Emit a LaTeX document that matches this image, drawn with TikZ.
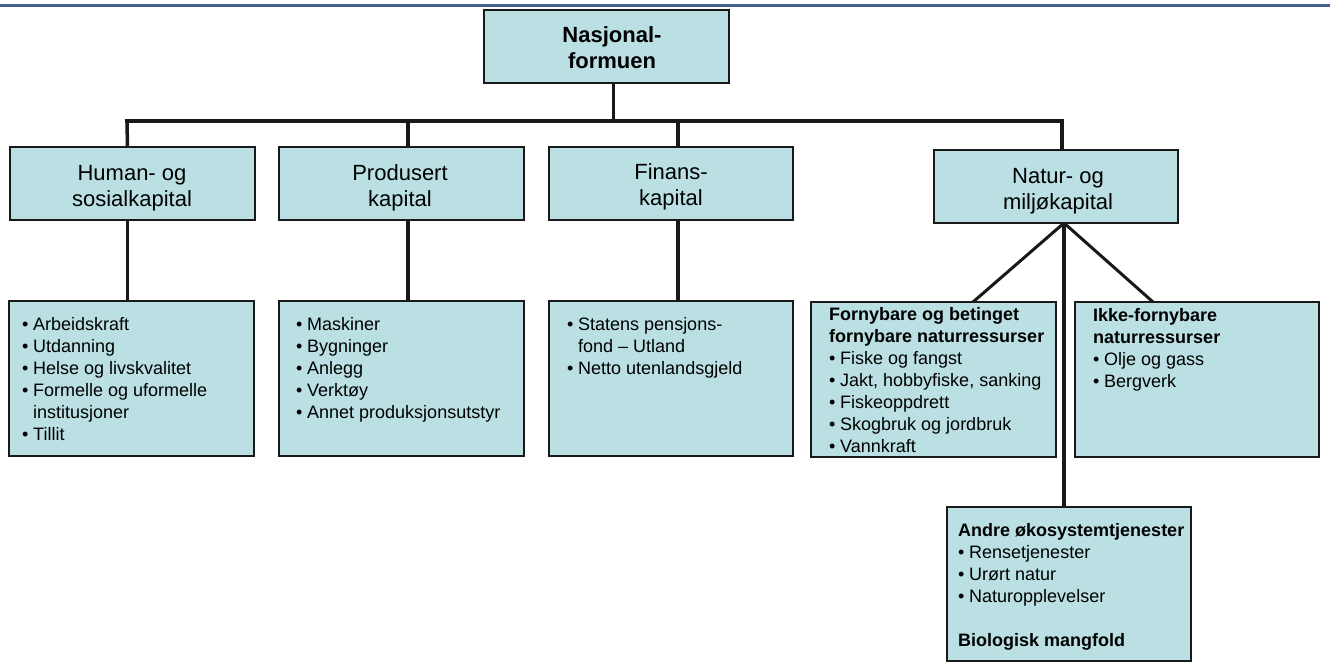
\documentclass[tikz,border=0pt]{standalone}
\usepackage{fontspec}
\setmainfont{Liberation Sans}
\definecolor{boxfill}{RGB}{186,224,227}
\definecolor{topblue}{RGB}{72,94,145}
\definecolor{edge}{RGB}{25,25,25}
\newcommand{\itm}[1]{\makebox[11pt][l]{•}#1}
\newcommand{\cnt}{\hspace*{11pt}}
\begin{document}
\begin{tikzpicture}[x=1pt,y=-1pt,
  box/.style={draw=edge,line width=1.6pt,fill=boxfill,inner sep=0pt,outer sep=0pt,anchor=north west},
  conn/.style={line width=3.5pt,draw=edge},
  hdr/.style={inner sep=0pt,anchor=base,font=\fontsize{22}{26}\selectfont},
  lst/.style={inner sep=0pt,anchor=base west,font=\fontsize{18}{22}\selectfont}]
\useasboundingbox (0,0) rectangle (1330,662);
\fill[white] (0,0) rectangle (1330,662);
% top rule
\coordinate (tl) at (0,5.5);
\coordinate (tr) at (1330,5.5);
\draw[topblue,line width=3pt] (tl) -- (tr);

% boxes
\node[box,minimum width=245pt,minimum height=73pt] (nat) at (484,10) {};
\node[box,minimum width=245pt,minimum height=73pt] (hh) at (10,147) {};
\node[box,minimum width=245pt,minimum height=73pt] (ph) at (279,147) {};
\node[box,minimum width=244pt,minimum height=73pt] (fh) at (549,147) {};
\node[box,minimum width=244pt,minimum height=73pt] (nh) at (934,150) {};
\node[box,minimum width=245pt,minimum height=155pt] (hl) at (9,301) {};
\node[box,minimum width=245pt,minimum height=155pt] (pl) at (279,301) {};
\node[box,minimum width=244pt,minimum height=155pt] (fl) at (549,301) {};
\node[box,minimum width=245pt,minimum height=155pt] (fb) at (811,302) {};
\node[box,minimum width=244pt,minimum height=155pt] (ik) at (1075,302) {};
\node[box,minimum width=244pt,minimum height=154pt] (an) at (947,507) {};

% header texts
\node[hdr,font=\fontsize{22}{26}\selectfont\bfseries] (natt) at (612,42) {\parbox[t]{230pt}{\centering Nasjonal-\\formuen}};
\node[hdr] (hht) at (132,180) {\parbox[t]{230pt}{\centering Human- og\\sosialkapital}};
\node[hdr] (pht) at (400,180) {\parbox[t]{230pt}{\centering Produsert\\kapital}};
\node[hdr] (fht) at (671,179) {\parbox[t]{230pt}{\centering Finans-\\kapital}};
\node[hdr] (nht) at (1058,183) {\parbox[t]{230pt}{\centering Natur- og\\miljøkapital}};

% list texts
\node[lst] (hlt) at (22,330) {\parbox[t]{230pt}{\itm{Arbeidskraft}\\\itm{Utdanning}\\\itm{Helse og livskvalitet}\\\itm{Formelle og uformelle}\\\cnt institusjoner\\\itm{Tillit}}};
\node[lst] (plt) at (296,330) {\parbox[t]{230pt}{\itm{Maskiner}\\\itm{Bygninger}\\\itm{Anlegg}\\\itm{Verktøy}\\\itm{Annet produksjonsutstyr}}};
\node[lst] (flt) at (567,330) {\parbox[t]{230pt}{\itm{Statens pensjons-}\\\cnt fond – Utland\\\itm{Netto utenlandsgjeld}}};
\node[lst] (fbt) at (829,320) {\parbox[t]{230pt}{\textbf{Fornybare og betinget}\\\textbf{fornybare naturressurser}\\\itm{Fiske og fangst}\\\itm{Jakt, hobbyfiske, sanking}\\\itm{Fiskeoppdrett}\\\itm{Skogbruk og jordbruk}\\\itm{Vannkraft}}};
\node[lst] (ikt) at (1093,321) {\parbox[t]{220pt}{\textbf{Ikke-fornybare}\\\textbf{naturressurser}\\\itm{Olje og gass}\\\itm{Bergverk}}};
\node[lst] (ant) at (958,536) {\parbox[t]{230pt}{\textbf{Andre økosystemtjenester}\\\itm{Rensetjenester}\\\itm{Urørt natur}\\\itm{Naturopplevelser}\\[22pt]\textbf{Biologisk mangfold}}};

% connectors
\coordinate (bl) at (127,121);
\coordinate (br) at (1062,121);
\draw[conn,line width=3pt] ([xshift=6.5pt]nat.south) -- ([xshift=6.5pt]nat.south |- bl);
\draw[conn,line cap=rect] (bl) -- (br);
\draw[conn] (bl) -- ([xshift=-5pt]hh.north);
\draw[conn] ([xshift=6.5pt]ph.north |- bl) -- ([xshift=6.5pt]ph.north);
\draw[conn] ([xshift=7pt]fh.north |- bl) -- ([xshift=7pt]fh.north);
\draw[conn] (br) -- ([xshift=6pt]nh.north);
\draw[conn] ([xshift=-5pt]hh.south) -- ([xshift=-5pt]hl.north -| hh.south);
\draw[conn] ([xshift=6.5pt]ph.south) -- ([xshift=6.5pt]pl.north);
\draw[conn] ([xshift=7pt]fh.south) -- ([xshift=7pt]fl.north);
\coordinate (nj) at ([xshift=8pt]nh.south);
\draw[conn,line width=3pt] (nj) -- ([xshift=39.5pt]fb.north);
\draw[conn,line width=3pt] (nj) -- ([xshift=-44pt]ik.north);
\draw[conn] (nj) -- (nj |- an.north);
\end{tikzpicture}
\end{document}
